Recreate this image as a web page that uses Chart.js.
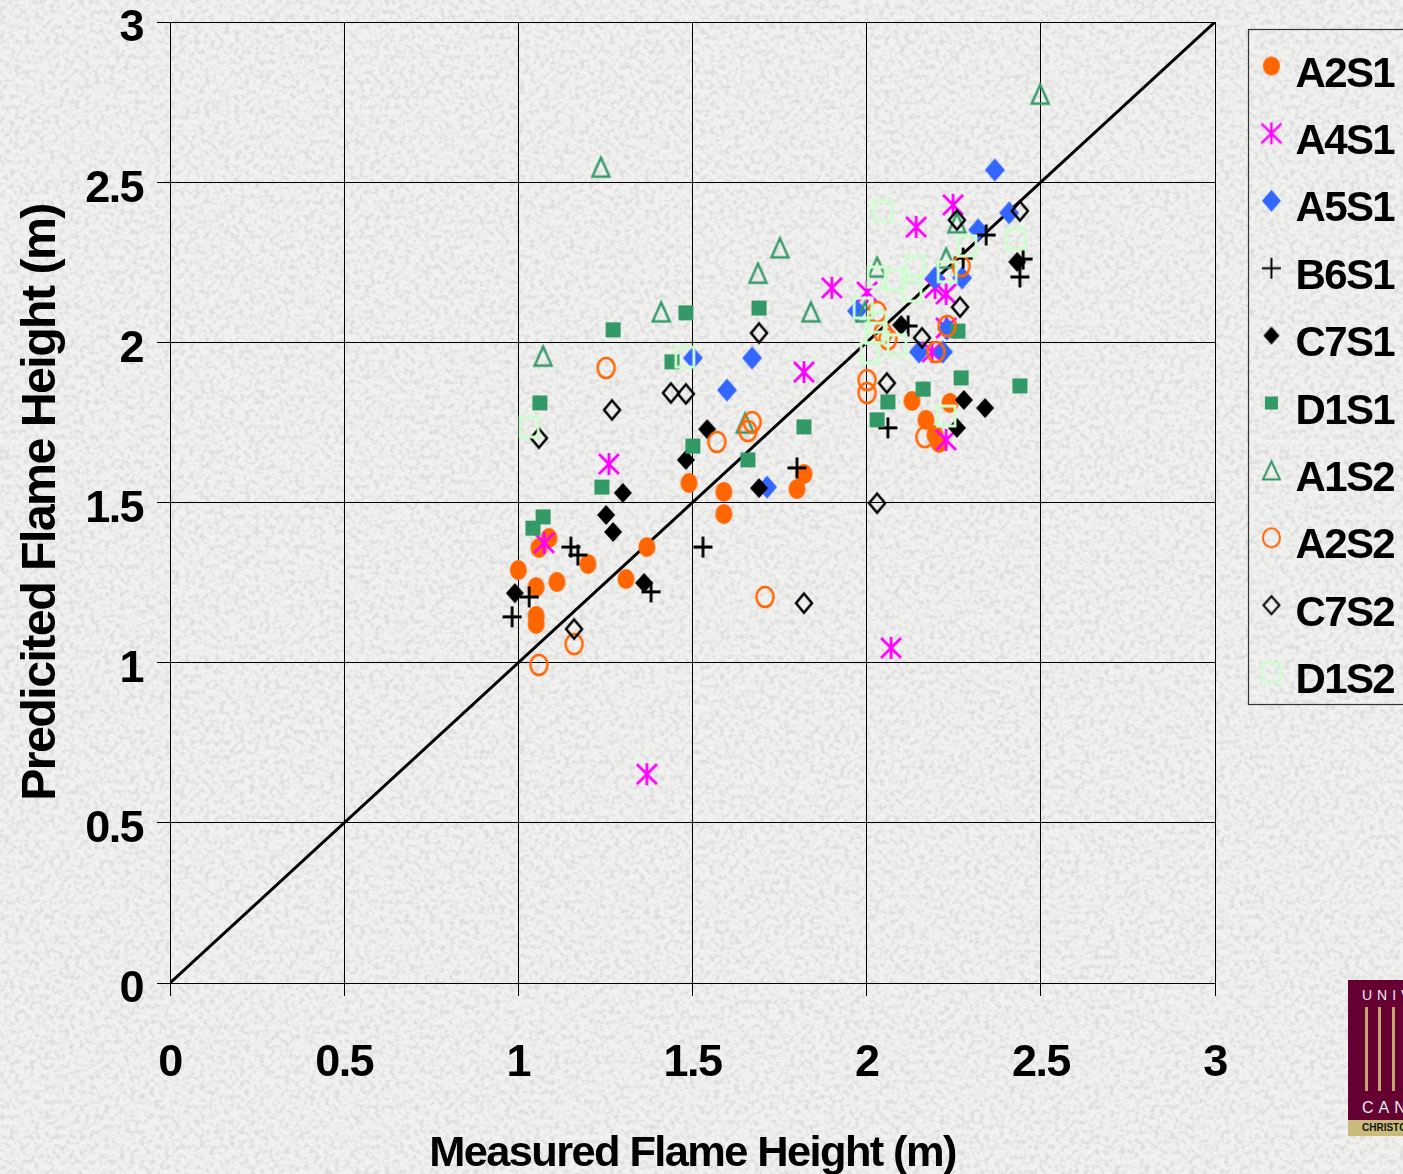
<!DOCTYPE html>
<html lang="en">
<head>
<meta charset="UTF-8">
<title>Predicted vs Measured Flame Height</title>
<script src="https://cdn.jsdelivr.net/npm/chart.js@4"></script>
<style>
    html, body { margin: 0; padding: 0; width: 1403px; height: 1174px; overflow: hidden; background: #f1f1f0; }
    #texture { position: absolute; left: 0; top: 0; }
    #chartBox { position: absolute; left: 0; top: 0; width: 1403px; height: 1174px; }
    #logo { position: absolute; left: 1348px; top: 980px; width: 55px; height: 156px; background: #660033; overflow: hidden; font-family: "Liberation Sans", Arial, sans-serif; }
    #logo .bar { position: absolute; top: 27px; width: 3px; height: 84px; background: #c4a66e; }
    #logo .word { position: absolute; left: 14px; color: #eee; white-space: nowrap; }
    #logo .strip { position: absolute; left: 0; top: 140px; width: 55px; height: 16px; background: #c9bb7c; color: #111; font-size: 10px; font-weight: bold; line-height: 15px; padding-left: 14px; white-space: nowrap; }
</style>
</head>
<body>
    <svg id="texture" width="1403" height="1174">
        <filter id="granite" x="0" y="0" width="100%" height="100%">
            <feTurbulence type="fractalNoise" baseFrequency="0.2" numOctaves="3" seed="7"/>
            <feColorMatrix type="matrix" values="0 0 0 0 0.72  0 0 0 0 0.72  0 0 0 0 0.72  3.2 0 0 0 -1.4"/>
        </filter>
        <rect width="1403" height="1174" filter="url(#granite)"/>
    </svg>
    <div id="chartBox"><canvas id="flameChart" width="1403" height="1174"></canvas></div>
    <div id="logo">
        <div class="word" style="top:7px;font-size:14px;letter-spacing:5px">UNIV</div>
        <div class="bar" style="left:17px"></div>
        <div class="bar" style="left:30px"></div>
        <div class="bar" style="left:44px"></div>
        <div class="word" style="top:119px;font-size:16px;letter-spacing:5px">CAN</div>
        <div class="strip">CHRISTC</div>
    </div>

    <script>
        const seriesNames = ['A2S1', 'A4S1', 'A5S1', 'B6S1', 'C7S1', 'D1S1', 'A1S2', 'A2S2', 'C7S2', 'D1S2'];
        const xTickLabels = ['0', '0.5', '1', '1.5', '2', '2.5', '3'];
        const yTickLabels = ['0', '0.5', '1', '1.5', '2', '2.5', '3'];

        // [measured, predicted]
        const a2s1 = [[1.00,1.289],[1.051,1.236],[1.051,1.146],[1.051,1.121],[1.059,1.358],[1.088,1.389],[1.111,1.252],[1.20,1.308],[1.309,1.261],[1.369,1.361],[1.49,1.561],[1.59,1.533],[1.59,1.464],[1.80,1.542],[1.82,1.589],[2.13,1.817],[2.17,1.758],[2.196,1.711],[2.208,1.686],[2.239,1.811]];
        const a4s1 = [[1.369,0.652],[2.07,1.046],[1.26,1.62],[1.074,1.374],[1.82,1.907],[1.90,2.17],[2.001,2.157],[2.142,2.36],[2.248,2.429],[2.196,2.17],[2.228,2.151],[2.228,2.045],[2.188,1.97],[2.228,1.695]];
        const a5s1 = [[2.368,2.538],[2.409,2.404],[2.32,2.351],[2.196,2.201],[2.274,2.201],[1.972,2.098],[2.231,2.042],[2.15,1.97],[2.219,1.97],[1.501,1.951],[1.671,1.951],[1.599,1.851],[1.714,1.548]];
        const b6s1 = [[0.982,1.143],[1.031,1.205],[1.151,1.361],[1.171,1.336],[1.381,1.221],[1.53,1.361],[1.80,1.608],[2.061,1.733],[2.119,2.051],[2.277,2.263],[2.343,2.335],[2.449,2.26],[2.44,2.204]];
        const c7s1 = [[0.99,1.217],[1.361,1.249],[1.272,1.408],[1.252,1.461],[1.30,1.53],[1.481,1.633],[1.542,1.729],[1.691,1.545],[2.099,2.054],[2.432,2.251],[2.279,1.82],[2.34,1.795],[2.259,1.733]];
        const d1s1 = [[1.272,2.039],[1.441,1.939],[1.481,2.092],[1.691,2.107],[1.062,1.811],[1.501,1.676],[1.82,1.736],[1.659,1.633],[1.24,1.548],[1.071,1.455],[1.042,1.42],[2.262,2.035],[2.061,1.814],[2.162,1.854],[2.271,1.889],[2.44,1.864],[2.03,1.758]];
        const a1s2 = [[2.498,2.775],[1.237,2.547],[1.751,2.295],[1.688,2.216],[1.41,2.095],[1.84,2.095],[1.071,1.957],[1.651,1.748],[2.03,2.235],[2.228,2.263],[2.259,2.373],[1.995,2.095]];
        const a2s2 = [[1.252,1.92],[1.57,1.689],[1.671,1.751],[1.659,1.723],[1.708,1.205],[1.16,1.058],[1.059,0.993],[2.03,2.095],[2.047,2.029],[2.061,2.01],[2.001,1.882],[2.001,1.842],[2.271,2.238],[2.231,2.051],[2.199,1.97],[2.167,1.704]];
        const c7s2 = [[1.691,2.029],[1.438,1.842],[1.481,1.839],[1.269,1.789],[1.059,1.701],[1.16,1.105],[1.82,1.186],[2.03,1.498],[2.259,2.382],[2.44,2.41],[2.268,2.11],[2.159,2.014],[2.058,1.873]];
        const d1s2 = [[1.031,1.736],[1.478,1.954],[2.047,2.41],[2.288,2.301],[2.429,2.323],[2.139,2.238],[2.231,2.22],[2.03,2.204],[2.079,2.195],[2.13,2.16],[1.99,2.107],[2.03,2.063],[2.024,2.029],[2.087,1.992],[2.01,1.967],[2.228,1.77]];
        const perfectLine = [[0,0],[3,3]];

        const allSeries = [a2s1, a4s1, a5s1, b6s1, c7s1, d1s1, a1s2, a2s2, c7s2, d1s2];

        // the original picture is a bit taller than wide, so the markers are drawn by hand on small canvases
        function marker(kind, color, w, h, lw, shiftUp) {
            shiftUp = shiftUp || 0;
            const c = document.createElement('canvas');
            c.width = w + 6;
            c.height = h + 6 + shiftUp * 2;
            const g = c.getContext('2d');
            const cx = c.width / 2, cy = c.height / 2 - shiftUp, rx = w / 2, ry = h / 2;
            g.strokeStyle = color;
            g.fillStyle = color;
            g.lineWidth = lw;
            g.beginPath();
            if (kind === 'dot') {
                g.ellipse(cx, cy, rx, ry, 0, 0, Math.PI * 2);
                g.fill();
            } else if (kind === 'ring') {
                g.ellipse(cx, cy, rx, ry, 0, 0, Math.PI * 2);
                g.stroke();
            } else if (kind === 'asterisk') {
                g.moveTo(cx, cy - ry); g.lineTo(cx, cy + ry);
                g.moveTo(cx - rx, cy - ry * 0.9); g.lineTo(cx + rx, cy + ry * 0.9);
                g.moveTo(cx - rx, cy + ry * 0.9); g.lineTo(cx + rx, cy - ry * 0.9);
                g.stroke();
            } else if (kind === 'plus') {
                g.moveTo(cx, cy - ry); g.lineTo(cx, cy + ry);
                g.moveTo(cx - rx, cy); g.lineTo(cx + rx, cy);
                g.stroke();
            } else if (kind === 'square' || kind === 'box') {
                g.rect(cx - rx, cy - ry, w, h);
                if (kind === 'square') g.fill(); else g.stroke();
            } else if (kind === 'triangle') {
                g.moveTo(cx, cy - ry); g.lineTo(cx + rx, cy + ry); g.lineTo(cx - rx, cy + ry); g.closePath();
                g.stroke();
            } else {
                g.moveTo(cx, cy - ry); g.lineTo(cx + rx, cy); g.lineTo(cx, cy + ry); g.lineTo(cx - rx, cy); g.closePath();
                if (kind === 'diamond') g.fill(); else g.stroke();
            }
            return c;
        }

        const plotMarkers = [
            marker('dot', '#FF6600', 17, 20, 0),
            marker('asterisk', '#FF00FF', 20, 22, 2.8),
            marker('diamond', '#3366FF', 20, 23, 0),
            marker('plus', '#000', 19, 21, 2.8),
            marker('diamond', '#000', 18, 20, 0),
            marker('square', '#339966', 15, 15, 0),
            marker('triangle', '#339966', 17, 19, 2.4),
            marker('ring', '#FF6600', 17, 20, 2.5),
            marker('open', '#000', 16, 19, 2.5),
            marker('box', '#CCFFCC', 18, 20, 2.8)
        ];
        const legendMarkers = [
            marker('dot', '#FF6600', 17, 19, 0, 9),
            marker('asterisk', '#FF00FF', 20, 22, 2.4, 9),
            marker('diamond', '#3366FF', 19, 22, 0, 9),
            marker('plus', '#000', 19, 21, 2, 9),
            marker('diamond', '#000', 16, 18, 0, 9),
            marker('square', '#339966', 13, 13, 0, 9),
            marker('triangle', '#339966', 17, 18, 2, 9),
            marker('ring', '#FF6600', 17, 19, 2, 9),
            marker('open', '#000', 16, 18, 2, 9),
            marker('box', '#CCFFCC', 18, 19, 2.6, 9)
        ];

        const datasets = seriesNames.map((name, i) => ({
            label: name,
            data: allSeries[i].map(p => ({ x: p[0], y: p[1] })),
            pointStyle: plotMarkers[i],
            order: seriesNames.length - i,
            showLine: false
        }));
        datasets.push({
            type: 'line',
            label: 'Measured = Predicted',
            data: perfectLine.map(p => ({ x: p[0], y: p[1] })),
            borderColor: '#000',
            borderWidth: 3,
            pointRadius: 0,
            order: 99
        });

        const fontFamily = '"Liberation Sans", Arial, sans-serif';
        const tight = '-1.6px';

        const framePlugin = {
            id: 'frame',
            beforeLayout(chart) {
                chart.ctx.letterSpacing = tight;
            },
            afterLayout(chart) {
                // legend sits outside the plot and runs off the right edge
                const lg = chart.legend;
                lg.left = 1243; lg.right = 1500; lg.top = 28.6; lg.bottom = 1000;
            },
            beforeDraw(chart) {
                chart.ctx.letterSpacing = tight;
            },
            beforeDatasetsDraw(chart) {
                const g = chart.ctx;
                g.save();
                g.strokeStyle = '#333';
                g.lineWidth = 1.2;
                g.strokeRect(1248.5, 29.5, 200, 675);
                g.restore();
            }
        };

        new Chart(document.getElementById('flameChart').getContext('2d'), {
            type: 'scatter',
            data: { datasets: datasets },
            plugins: [framePlugin],
            options: {
                responsive: false,
                animation: false,
                layout: { padding: { top: 22, right: 188, left: 0, bottom: 0 } },
                plugins: {
                    tooltip: { enabled: false },
                    legend: {
                        position: 'chartArea',
                        align: 'start',
                        labels: {
                            usePointStyle: true,
                            boxWidth: 6,
                            boxHeight: 14,
                            padding: 25.4,
                            color: '#000',
                            font: { family: fontFamily, size: 42, weight: 'bold', lineHeight: 1 },
                            generateLabels: () => seriesNames.map((name, i) => ({
                                text: name,
                                pointStyle: legendMarkers[i],
                                datasetIndex: i,
                                fontColor: '#000',
                                lineWidth: 0,
                                hidden: false
                            }))
                        }
                    }
                },
                scales: {
                    x: {
                        type: 'linear',
                        min: 0,
                        max: 3,
                        afterFit(scale) { scale.height = 191; scale.paddingLeft = 0; scale.paddingRight = 0; },
                        afterBuildTicks(scale) { scale.ticks = xTickLabels.map(t => ({ value: Number(t) })); },
                        grid: { color: '#000', lineWidth: 1, tickLength: 13 },
                        border: { color: '#000', width: 1 },
                        ticks: {
                            color: '#000',
                            font: { family: fontFamily, size: 45, weight: 'bold', lineHeight: 1 },
                            padding: 45,
                            maxRotation: 0,
                            autoSkip: false,
                            callback: (v, i) => xTickLabels[i]
                        },
                        title: { display: true, text: 'Measured Flame Height (m)', color: '#000', font: { family: fontFamily, size: 43.4, weight: 'bold', lineHeight: 1 }, padding: { top: 0, bottom: -2 } }
                    },
                    y: {
                        type: 'linear',
                        min: 0,
                        max: 3,
                        afterFit(scale) { scale.width = 170; scale.paddingTop = 0; scale.paddingBottom = 0; },
                        afterBuildTicks(scale) { scale.ticks = yTickLabels.map(t => ({ value: Number(t) })); },
                        grid: { color: '#000', lineWidth: 1, tickLength: 13 },
                        border: { color: '#000', width: 1 },
                        ticks: {
                            color: '#000',
                            font: { family: fontFamily, size: 45, weight: 'bold', lineHeight: 1 },
                            padding: 14,
                            labelOffset: 7,
                            autoSkip: false,
                            callback: (v, i) => yTickLabels[i]
                        },
                        title: { display: true, text: 'Predicited Flame Height (m)', color: '#000', font: { family: fontFamily, size: 48.4, weight: 'bold', lineHeight: 1 }, padding: { top: 17, bottom: 0 } }
                    }
                }
            }
        });
    </script>
</body>
</html>
